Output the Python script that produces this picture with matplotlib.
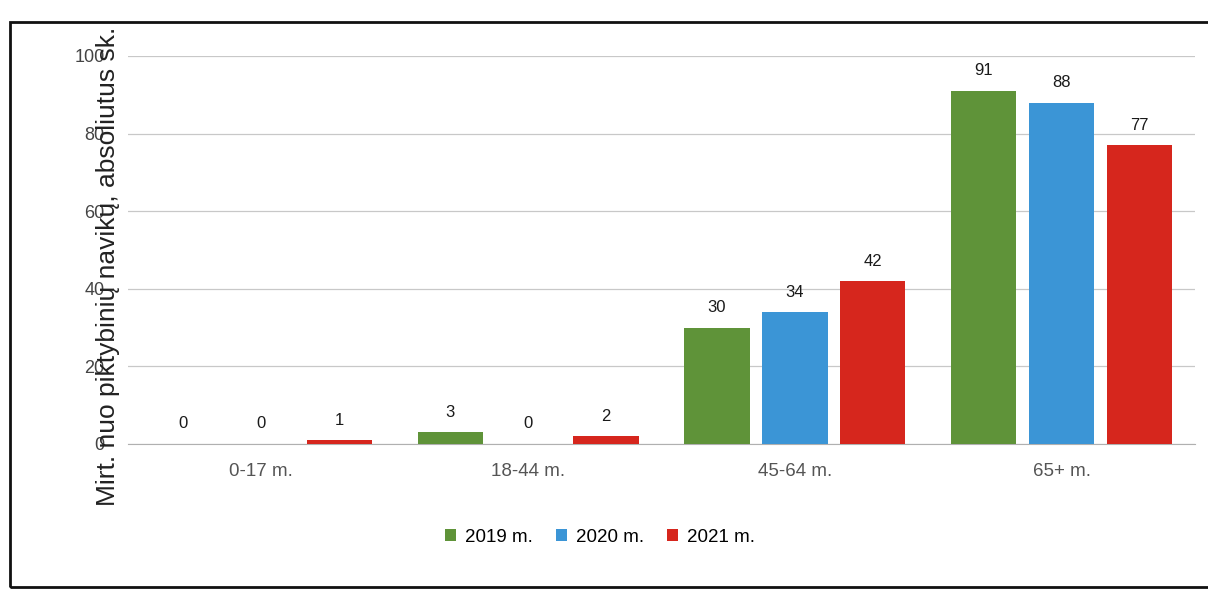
import matplotlib
matplotlib.use("Agg")
import matplotlib.pyplot as plt
from matplotlib.patches import Rectangle
import numpy as np

plt.rcParams['font.family'] = ['Liberation Sans', 'DejaVu Sans']

categories = ["0-17 m.", "18-44 m.", "45-64 m.", "65+ m."]
series_names = ["2019 m.", "2020 m.", "2021 m."]
values_2019 = [0, 3, 30, 91]
values_2020 = [0, 0, 34, 88]
values_2021 = [1, 2, 42, 77]
y_ticks = [0, 20, 40, 60, 80, 100]
y_label = "Mirt. nuo piktybinių navikų, absoliutus sk."

colors = ["#5f9339", "#3b95d6", "#d6261d"]
series = [values_2019, values_2020, values_2021]

W, H = 1208, 603
fig = plt.figure(figsize=(W / 100, H / 100), dpi=100)
ax = fig.add_axes([128 / W, 1 - 444 / H, (1195 - 128) / W, (444 - 56) / H])

x = np.arange(len(categories))
width = 0.245
step = 0.292
for i, (vals, c, name) in enumerate(zip(series, colors, series_names)):
    pos = x + (i - 1) * step
    bars = ax.bar(pos, vals, width, color=c, label=name, zorder=3)
    for b, v in zip(bars, vals):
        ax.annotate(str(v), (b.get_x() + b.get_width() / 2, v),
                    xytext=(0, 9), textcoords="offset points",
                    ha="center", va="bottom", fontsize=12, color="#1a1a1a")

ax.set_xlim(-0.5, 3.5)
ax.set_ylim(0, 100)
ax.set_yticks(y_ticks)
ax.set_xticks(x)
ax.set_xticklabels(categories, fontsize=13.5, color="#555555")
ax.tick_params(axis="x", length=0, pad=14)
ax.tick_params(axis="y", length=0, pad=17, labelsize=13, labelcolor="#444444")
ax.grid(axis="y", color="#c8c8c8", linewidth=0.9, zorder=0)
for s in ["top", "right", "left"]:
    ax.spines[s].set_visible(False)
ax.spines["bottom"].set_color("#b0b0b0")

fig.text(108 / W, 1 - 266 / H, y_label, rotation=90, ha="center", va="center",
         fontsize=19, color="#222222")

leg = fig.legend(loc="center", bbox_to_anchor=(600 / W, 1 - 537 / H), ncol=3,
                 frameon=False, fontsize=13.5, handlelength=0.6, handleheight=0.6,
                 columnspacing=1.2, handletextpad=0.5)

# outer frame of the chart
fig.add_artist(Rectangle((10 / W, 1 - 587 / H), 1.2, (587 - 22) / H,
                         transform=fig.transFigure, fill=False,
                         edgecolor="#111111", linewidth=2.0, clip_on=False))

fig.savefig("out.png", dpi=100, facecolor="white")
